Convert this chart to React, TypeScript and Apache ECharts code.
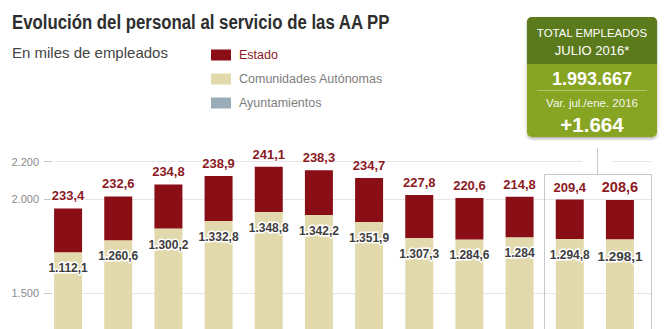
import React, { useEffect, useRef } from 'react';
import * as echarts from 'echarts';

const categories = ['Ene 2006', 'Ene 2007', 'Ene 2008', 'Ene 2009', 'Ene 2010', 'Ene 2011', 'Ene 2012', 'Ene 2013', 'Ene 2014', 'Ene 2015', 'Ene 2016', 'Jul 2016'];
const estado = [233.4, 232.6, 234.8, 238.9, 241.1, 238.3, 234.7, 227.8, 220.6, 214.8, 209.4, 208.6];
const comunidades = [1112.1, 1260.6, 1300.2, 1332.8, 1348.8, 1342.2, 1351.9, 1307.3, 1284.6, 1284, 1294.8, 1298.1];
const ayuntamientos = [606, 522, 544, 552, 583, 574, 527, 487, 502, 514, 494, 489];
const yTicks = [1500, 2000, 2200];

const SANS = "'Liberation Sans', Arial, Helvetica, sans-serif";

function fmt(v: number): string {
  const isInt = Number.isInteger(v);
  const s = isInt ? String(v) : v.toFixed(1);
  const [i, d] = s.split('.');
  const int = i.replace(/\B(?=(\d{3})+(?!\d))/g, '.');
  return isInt ? int : int + ',' + d;
}

export default function App() {
  const ref = useRef<HTMLDivElement>(null);
  useEffect(() => {
    const chart = echarts.init(ref.current!, null, { renderer: 'svg', width: 664, height: 329 });
    const last = categories.length - 1;
    const option: any = {
      animation: false,
      backgroundColor: '#ffffff',
      grid: [
        { left: 55, right: 13, top: 150, bottom: 0 },
        { left: 43, right: 19, top: 150, bottom: 0 },
      ],
      xAxis: [
        { gridIndex: 0, type: 'category', data: categories, show: false },
        { gridIndex: 1, type: 'category', data: categories, show: false },
      ],
      yAxis: [
        {
          gridIndex: 0, type: 'value', min: 1310, max: 2262, offset: 3,
          axisLine: { show: false },
          axisTick: { show: true, length: 8, customValues: yTicks, lineStyle: { color: '#c4c4c4' } },
          axisLabel: { customValues: yTicks, margin: 13, color: '#8a8a8a', fontSize: 11, fontFamily: SANS, formatter: (v: number) => fmt(v) },
          splitLine: { show: true, lineStyle: { color: '#e6e6e6', width: 1 } },
        },
        { gridIndex: 1, type: 'value', min: 1310, max: 2262, show: false, splitLine: { show: false } },
      ],
      legend: {
        orient: 'vertical', left: 211, top: 48, padding: 0, itemWidth: 20, itemHeight: 11, itemGap: 10, icon: 'rect',
        selectedMode: false,
        data: [
          { name: 'Estado', textStyle: { color: '#8b1a1f' } },
          { name: 'Comunidades Autónomas', textStyle: { color: '#7d7d7d' } },
          { name: 'Ayuntamientos', textStyle: { color: '#7d7d7d' } },
        ],
        textStyle: { fontFamily: SANS, fontSize: 12.5, lineHeight: 14, padding: [0, 0, 0, 3] },
      },
      series: [
        {
          name: 'Ayuntamientos', type: 'bar', stack: 't', xAxisIndex: 1, yAxisIndex: 1, barWidth: 28,
          data: ayuntamientos, itemStyle: { color: '#9aacb8' },
        },
        {
          name: 'Comunidades Autónomas', type: 'bar', stack: 't', xAxisIndex: 1, yAxisIndex: 1, barWidth: 28,
          itemStyle: { color: '#e2d9ad' },
          data: comunidades.map((v, i) => (i === last ? { value: v, label: { fontSize: 13.5 } } : v)),
          label: {
            show: true, position: 'insideTop', distance: 10, formatter: (p: any) => fmt(p.value),
            fontFamily: SANS, fontWeight: 'bold', fontSize: 12, color: '#3d3d3d',
            textBorderColor: '#ffffff', textBorderWidth: 3,
          },
        },
        {
          name: 'Estado', type: 'bar', stack: 't', xAxisIndex: 1, yAxisIndex: 1, barWidth: 28,
          itemStyle: { color: '#8a0e16' },
          data: estado.map((v, i) => (i === last ? { value: v, label: { fontSize: 14.5 } } : v)),
          label: {
            show: true, position: 'top', distance: 6, formatter: (p: any) => fmt(p.value),
            fontFamily: SANS, fontWeight: 'bold', fontSize: 13, color: '#8b1a1f',
            textBorderColor: '#ffffff', textBorderWidth: 2,
          },
        },
      ],
      graphic: [
        { type: 'text', x: 12, y: 22, scaleX: 0.8, z: 10, style: { text: 'Evolución del personal al servicio de las AA PP', fontFamily: SANS, fontWeight: 'bold', fontSize: 21, fill: '#2e2e2e', verticalAlign: 'middle' } },
        { type: 'text', x: 12, y: 52, z: 10, style: { text: 'En miles de empleados', fontFamily: SANS, fontSize: 15, fill: '#444444', verticalAlign: 'middle' } },
        { type: 'rect', z: 10, shape: { x: 527, y: 17, width: 130, height: 120, r: 5 }, style: { fill: '#87a522', shadowBlur: 3, shadowOffsetY: 2, shadowColor: 'rgba(0,0,0,0.3)' } },
        { type: 'rect', z: 11, shape: { x: 527, y: 17, width: 130, height: 47, r: [5, 5, 0, 0] }, style: { fill: '#5b7a1c' } },
        { type: 'line', z: 11, shape: { x1: 537, y1: 90.5, x2: 647, y2: 90.5 }, style: { stroke: 'rgba(255,255,255,0.35)', lineWidth: 1 } },
        { type: 'text', x: 592, y: 33, z: 12, style: { text: 'TOTAL EMPLEADOS', fontFamily: SANS, fontSize: 11.5, fill: '#ffffff', align: 'center', verticalAlign: 'middle' } },
        { type: 'text', x: 592, y: 50, z: 12, style: { text: 'JULIO 2016*', fontFamily: SANS, fontSize: 13, fill: '#ffffff', align: 'center', verticalAlign: 'middle' } },
        { type: 'text', x: 592, y: 79, z: 12, style: { text: '1.993.667', fontFamily: SANS, fontWeight: 'bold', fontSize: 18, fill: '#ffffff', align: 'center', verticalAlign: 'middle' } },
        { type: 'text', x: 592, y: 103, z: 12, style: { text: 'Var. jul./ene. 2016', fontFamily: SANS, fontSize: 11.5, fill: '#f4f7ea', align: 'center', verticalAlign: 'middle' } },
        { type: 'text', x: 592, y: 124, z: 12, style: { text: '+1.664', fontFamily: SANS, fontWeight: 'bold', fontSize: 20.5, fill: '#ffffff', align: 'center', verticalAlign: 'middle' } },
        { type: 'rect', z: 1, shape: { x: 582, y: 158, width: 30, height: 7 }, style: { fill: '#ffffff' } },
        { type: 'line', z: 2, shape: { x1: 597.5, y1: 148, x2: 597.5, y2: 174.5 }, style: { stroke: '#cccccc', lineWidth: 1 } },
        { type: 'polyline', z: 2, shape: { points: [[544.5, 335], [544.5, 174.5], [651.5, 174.5], [651.5, 335]] }, style: { stroke: '#c6c6c6', fill: null, lineWidth: 1 } },
      ],
    };
    chart.setOption(option);
    return () => chart.dispose();
  }, []);
  return <div ref={ref} style={{ position: 'absolute', left: 0, top: 0, width: 664, height: 329 }} />;
}
